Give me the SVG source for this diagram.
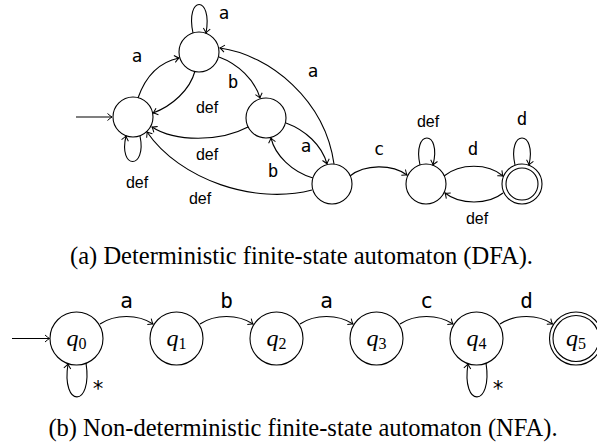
<svg xmlns="http://www.w3.org/2000/svg" width="597" height="446" viewBox="0 0 597 446">
  <defs>
    <style>
      .st { fill: #fff; stroke: #000; stroke-width: 1.1; }
      .ed { fill: none; stroke: #000; stroke-width: 1.1; marker-end: url(#tip); }
      .sym { font-family: "DejaVu Sans Mono", "Liberation Mono", monospace; font-size: 17.5px; fill: #000; text-anchor: middle; }
      .big { font-size: 21px; }
      .word { font-family: "Liberation Sans", Arial, sans-serif; font-size: 16px; fill: #000; text-anchor: middle; }
      .cap { font-family: "Liberation Serif", "Times New Roman", serif; font-size: 24.5px; fill: #000; text-anchor: middle; }
      .q { font-family: "Liberation Serif", "Times New Roman", serif; font-size: 24px; font-style: italic; fill: #000; text-anchor: middle; }
      .sub { font-style: normal; font-size: 16px; }
    </style>
    <marker id="tip" viewBox="-6 -5 8 10" markerWidth="8" markerHeight="10" refX="0" refY="0" orient="auto" markerUnits="userSpaceOnUse">
      <path d="M-4.5,-3.5 Q-1.5,-0.8 0,0 Q-1.5,0.8 -4.5,3.5" fill="none" stroke="#000" stroke-width="1"/>
    </marker>
  </defs>

  <!-- DFA states -->
  <g id="d0"><circle class="st" cx="133" cy="117" r="20"/></g>
  <g id="d1"><circle class="st" cx="199" cy="52" r="20"/></g>
  <g id="d2"><circle class="st" cx="266" cy="118" r="20"/></g>
  <g id="d3"><circle class="st" cx="332" cy="184" r="20"/></g>
  <g id="d4"><circle class="st" cx="426" cy="184" r="20"/></g>
  <g id="d5"><circle class="st" cx="522" cy="184" r="20"/><circle class="st" cx="522" cy="184" r="16"/></g>

  <!-- DFA transitions -->
  <g id="dfa-edges">
    <path class="ed" d="M76,117 L112,117"/>
    <path class="ed" d="M193,33 C185,-5 213,-5 206,33"/>
    <path class="ed" d="M140,136 C147,170 118,170 126,136"/>
    <path class="ed" d="M420,165 C412,129 442,129 433,165"/>
    <path class="ed" d="M515,165 C507,129 537,129 529,165"/>
    <path class="ed" d="M138,98 C146,75 160,62 179,58"/>
    <path class="ed" d="M195,71 C190,90 172,106 153,113"/>
    <path class="ed" d="M219,57 C238,64 255,80 260,98"/>
    <path class="ed" d="M248,127 C220,142 175,142 152,127"/>
    <path class="ed" d="M334,164 C325,100 270,55 220,48"/>
    <path class="ed" d="M286,123 C305,130 322,145 327,164"/>
    <path class="ed" d="M313,178 C292,172 275,155 271,138"/>
    <path class="ed" d="M312,190 C255,205 180,180 147,132"/>
    <path class="ed" d="M350,176 C365,164 392,164 407,175"/>
    <path class="ed" d="M444,176 C460,163 488,163 503,176"/>
    <path class="ed" d="M503,193 C488,205 460,205 445,193"/>
  </g>

  <!-- DFA labels -->
  <g id="dfa-labels">
    <text class="sym" x="224" y="19">a</text>
    <text class="sym" x="137" y="62">a</text>
    <text class="sym" x="233" y="88">b</text>
    <text class="word" x="207" y="113">def</text>
    <text class="sym" x="313" y="77">a</text>
    <text class="word" x="207" y="160">def</text>
    <text class="sym" x="306" y="152">a</text>
    <text class="sym" x="273" y="177">b</text>
    <text class="word" x="137" y="188">def</text>
    <text class="word" x="200" y="204">def</text>
    <text class="sym" x="379" y="155">c</text>
    <text class="word" x="428" y="127">def</text>
    <text class="sym" x="473" y="155">d</text>
    <text class="sym" x="522" y="125">d</text>
    <text class="word" x="477" y="224">def</text>
  </g>

  <text class="cap" x="301.5" y="264">(a) Deterministic finite-state automaton (DFA).</text>

  <!-- NFA states -->
  <g id="n0"><circle class="st" cx="76.5" cy="338.5" r="26.5"/><text class="q" x="76.5" y="346">q<tspan class="sub" dy="3">0</tspan></text></g>
  <g id="n1"><circle class="st" cx="176.5" cy="338.5" r="26.5"/><text class="q" x="176.5" y="346">q<tspan class="sub" dy="3">1</tspan></text></g>
  <g id="n2"><circle class="st" cx="276.5" cy="338.5" r="26.5"/><text class="q" x="276.5" y="346">q<tspan class="sub" dy="3">2</tspan></text></g>
  <g id="n3"><circle class="st" cx="376.5" cy="338.5" r="26.5"/><text class="q" x="376.5" y="346">q<tspan class="sub" dy="3">3</tspan></text></g>
  <g id="n4"><circle class="st" cx="476.5" cy="338.5" r="26.5"/><text class="q" x="476.5" y="346">q<tspan class="sub" dy="3">4</tspan></text></g>
  <g id="n5"><circle class="st" cx="576" cy="338.5" r="26.5"/><circle class="st" cx="576" cy="338.5" r="23"/><text class="q" x="576" y="346">q<tspan class="sub" dy="3">5</tspan></text></g>

  <!-- NFA transitions -->
  <g id="nfa-edges">
    <path class="ed" d="M12,338.5 L49.5,338.5"/>
    <path class="ed" d="M100,324 C115,314 138,314 153,324"/>
    <path class="ed" d="M200,324 C215,314 238,314 253,324"/>
    <path class="ed" d="M300,324 C315,314 338,314 353,324"/>
    <path class="ed" d="M400,324 C415,314 438,314 453,324"/>
    <path class="ed" d="M500,324 C515,314 538,314 552.5,324"/>
    <path class="ed" d="M86,363 C93,408 61,408 68,364"/>
    <path class="ed" d="M486,363 C493,408 461,408 468,364"/>
  </g>

  <g id="nfa-labels">
    <text class="sym big" x="126.5" y="308">a</text>
    <text class="sym big" x="226.5" y="308">b</text>
    <text class="sym big" x="326.5" y="308">a</text>
    <text class="sym big" x="426.5" y="308">c</text>
    <text class="sym big" x="526.5" y="308">d</text>
    <text class="sym big" x="98" y="396">*</text>
    <text class="sym big" x="498" y="396">*</text>
  </g>

  <text class="cap" x="303" y="436">(b) Non-deterministic finite-state automaton (NFA).</text>
</svg>
